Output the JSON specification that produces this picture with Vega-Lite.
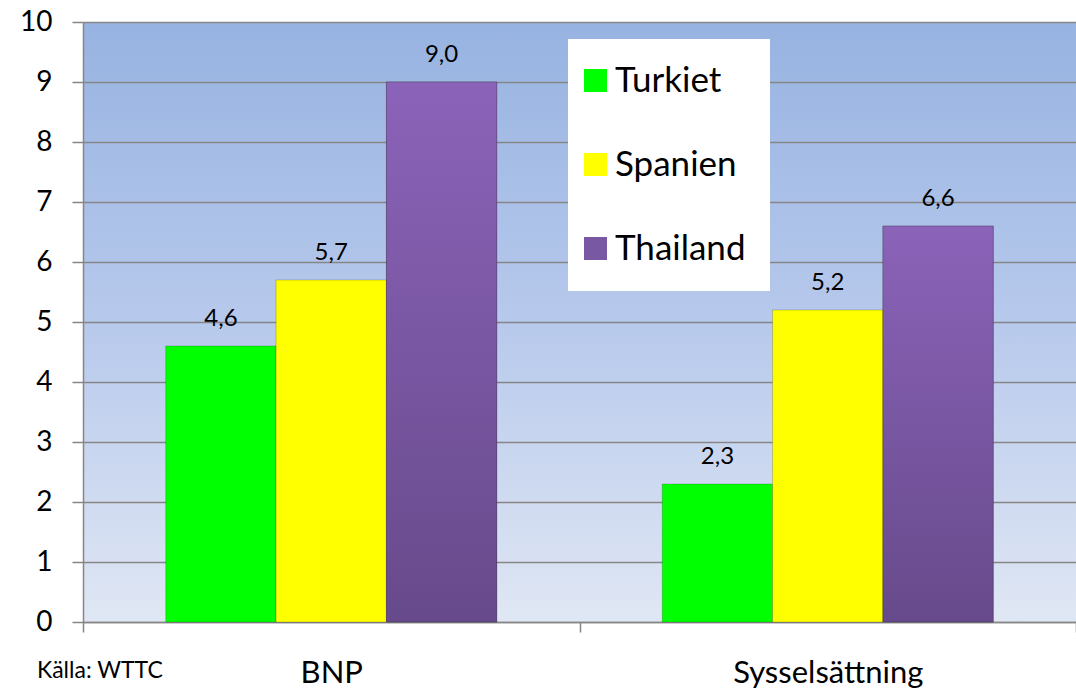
{
  "$schema": "https://vega.github.io/schema/vega-lite/v6.json",
  "width": 993,
  "height": 600,
  "autosize": {"type": "none"},
  "padding": {"left": 83, "top": 22, "right": 0, "bottom": 69},
  "background": "white",
  "config": {
    "font": "Lato",
    "locale": {"number": {"decimal": ",", "thousands": " ", "grouping": [3], "currency": ["", " kr"]}},
    "view": {
      "stroke": null,
      "fill": {"gradient": "linear", "x1": 0, "y1": 0, "x2": 0, "y2": 1, "stops": [{"offset": 0, "color": "#97b3e1"}, {"offset": 0.5, "color": "#b7c9ec"}, {"offset": 1, "color": "#e0e7f4"}]}
    }
  },
  "title": {"text": "Källa: WTTC", "orient": "bottom", "anchor": "start", "frame": "group", "dx": -46, "dy": -28, "offset": 0, "fontSize": 23, "fontWeight": "normal", "color": "black", "font": "Lato"},
  "data": {"values": [
    {"kategori": "BNP", "land": "Turkiet", "varde": 4.6},
    {"kategori": "BNP", "land": "Spanien", "varde": 5.7},
    {"kategori": "BNP", "land": "Thailand", "varde": 9.0},
    {"kategori": "Sysselsättning", "land": "Turkiet", "varde": 2.3},
    {"kategori": "Sysselsättning", "land": "Spanien", "varde": 5.2},
    {"kategori": "Sysselsättning", "land": "Thailand", "varde": 6.6}
  ]},
  "encoding": {
    "x": {"field": "kategori", "type": "nominal", "sort": ["BNP", "Sysselsättning"],
      "scale": {"paddingInner": 0, "paddingOuter": 0},
      "axis": {"title": null, "labelAngle": 0, "labelFontSize": 31, "labelColor": "black", "labelFont": "Lato", "labelLimit": 500,
        "tickBand": "extent", "tickSize": 10, "tickColor": "#868686", "tickWidth": 1.5,
        "domainColor": "#868686", "domainWidth": 1.5, "labelPadding": 50, "labelBaseline": "alphabetic"}},
    "xOffset": {"field": "land", "type": "nominal",
      "scale": {"domain": ["Turkiet", "Spanien", "Thailand"], "paddingInner": 0, "paddingOuter": 0.75}},
    "y": {"field": "varde", "type": "quantitative",
      "scale": {"domain": [0, 10], "nice": false},
      "axis": {"title": null, "values": [0,1,2,3,4,5,6,7,8,9,10], "labelFontSize": 28, "labelColor": "black",
        "labelFont": "Lato", "tickSize": 11, "labelPadding": 20, "tickColor": "#868686", "tickWidth": 1.5,
        "domainColor": "#868686", "domainWidth": 1.5, "gridColor": "#868686", "gridWidth": 1.5, "gridOpacity": 1}}
  },
  "layer": [
    {
      "mark": {"type": "bar", "stroke": "#00000030", "strokeWidth": 1},
      "encoding": {
        "color": {"field": "land", "type": "nominal",
          "scale": {"domain": ["Turkiet", "Spanien", "Thailand"], "range": ["#00ff00", "#ffff00", "#7857a3"]},
          "legend": {"title": null, "orient": "none", "legendX": 485, "legendY": 17,
            "fillColor": "white", "padding": 24, "symbolType": "square", "symbolSize": 529,
            "symbolStrokeWidth": 0, "symbolOffset": -14, "labelFontSize": 35, "labelFont": "Lato", "labelColor": "black",
            "labelOffset": 2, "rowPadding": 48, "labelLimit": 300, "symbolOpacity": 1}}
      }
    },
    {
      "transform": [{"filter": "datum.land === 'Thailand'"}],
      "mark": {"type": "bar", "stroke": "#00000030", "strokeWidth": 1,
        "color": {"gradient": "linear", "x1": 0, "y1": 0, "x2": 0, "y2": 1, "stops": [{"offset": 0, "color": "#8b63b9"}, {"offset": 1, "color": "#674a8b"}]}}
    },
    {
      "mark": {"type": "text", "baseline": "alphabetic", "dy": -20, "fontSize": 24, "font": "Lato", "color": "black"},
      "encoding": {"text": {"field": "varde", "type": "quantitative", "format": ".1f"}}
    }
  ]
}
